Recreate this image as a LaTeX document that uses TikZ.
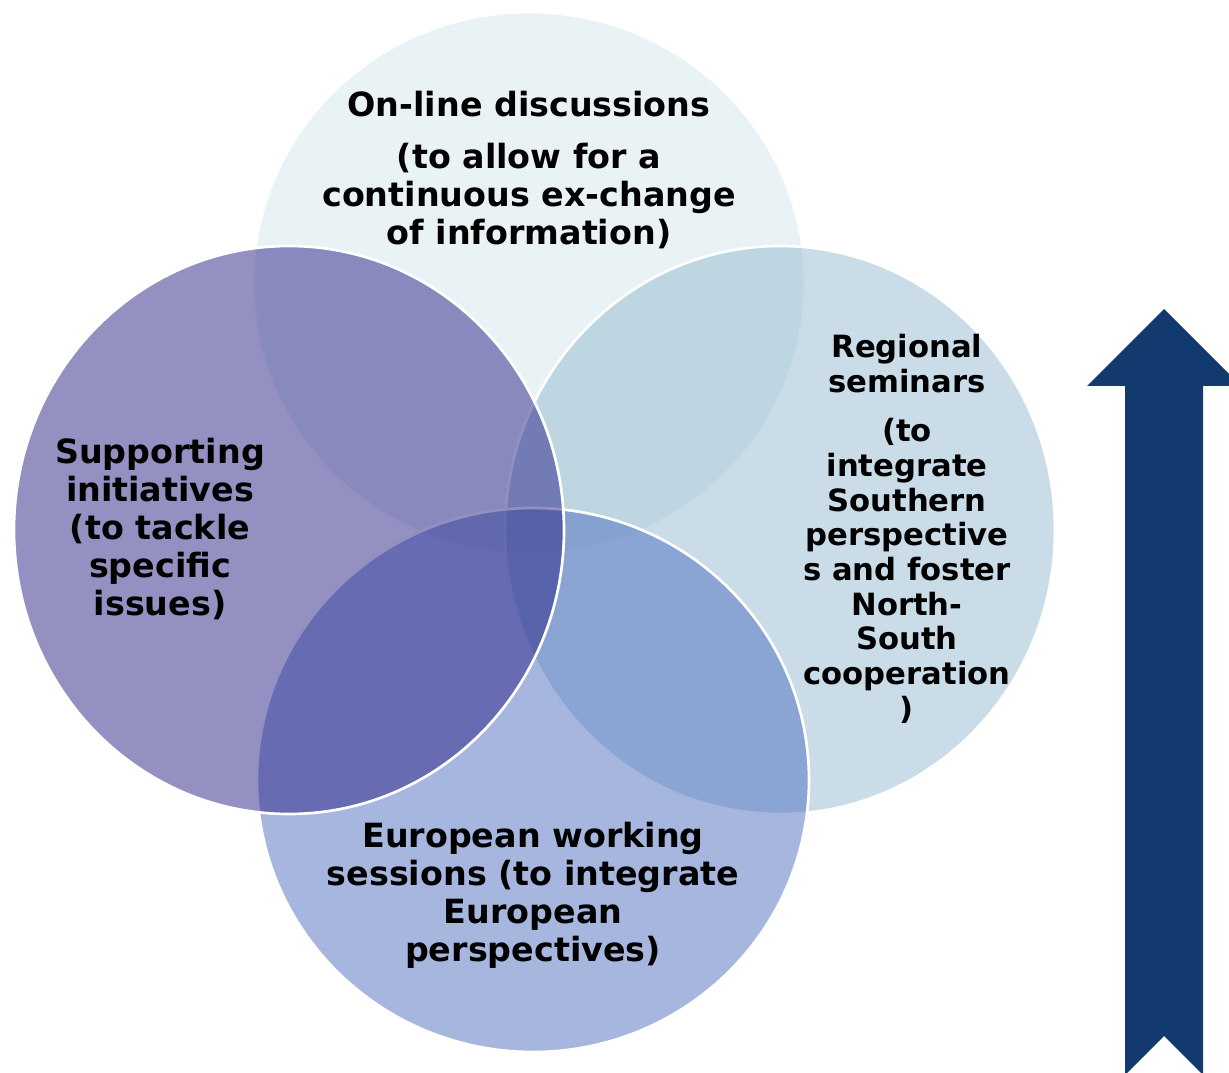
\documentclass[tikz,border=0pt]{standalone}
\usepackage{fontspec}
\setmainfont{DejaVu Sans}
\definecolor{onlinec}{RGB}{211,231,235}
\definecolor{supportc}{RGB}{41,35,133}
\definecolor{regionc}{RGB}{147,185,209}
\definecolor{europec}{RGB}{77,109,191}
\definecolor{arrowc}{RGB}{18,58,110}

\begin{document}
\begin{tikzpicture}[x=0.75pt,y=-0.75pt,
	venn/.style={fill opacity=0.5,draw=white,line width=2pt},
	lbl/.style={align=center,inner sep=0pt,font=\fontsize{25}{28.5}\selectfont\bfseries},
	lblsmall/.style={lbl,font=\fontsize{23}{26}\selectfont\bfseries}]
	\useasboundingbox (0,0) rectangle (1229,1073);
	\clip (0,0) rectangle (1229,1073);
	\draw[venn,fill=onlinec] (529,283) ellipse [x radius=207pt,y radius=203.25pt];
	\draw[venn,fill=regionc] (780,530) ellipse [x radius=206.25pt,y radius=213pt];
	\draw[venn,fill=europec] (533,780) ellipse [x radius=207pt,y radius=204pt];
	\draw[venn,fill=supportc] (289,530) ellipse [x radius=206.25pt,y radius=213pt];
	\node[lbl] (online) at (529,170) {On-line discussions\\[11pt](to allow for a\\continuous ex-change\\of information)};
	\node[lbl] (support) at (160,529) {Supporting\\initiatives\\(to tackle\\specific\\issues)};
	\node[lblsmall] (region) at (907,529) {Regional\\seminars\\[11pt](to\\integrate\\Southern\\perspective\\s and foster\\North-\\South\\cooperation\\)};
	\node[lbl] (europe) at (533,895) {European working\\sessions (to integrate\\European\\perspectives)};
	\fill[arrowc] (1164,309) -- (1241,386) -- (1203,386) -- (1203,1075) -- (1164,1036) -- (1125,1075) -- (1125,386) -- (1087,386) -- cycle;
\end{tikzpicture}
\end{document}
